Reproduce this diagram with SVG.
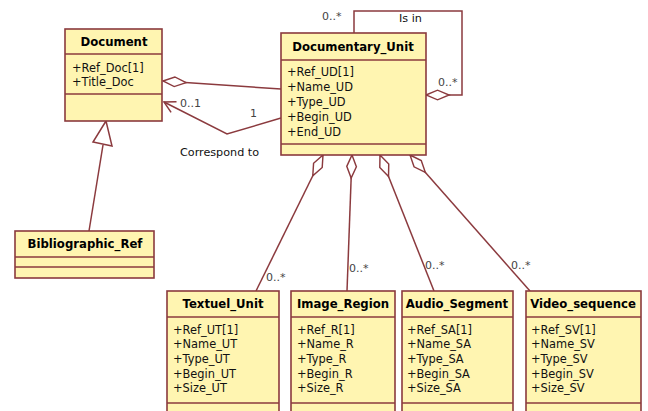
<svg xmlns="http://www.w3.org/2000/svg" width="648" height="411" viewBox="0 0 648 411">
<style>
.box{fill:#FFF5B1;stroke:#8B3A3E;stroke-width:1.6}
.div{stroke:#8B3A3E;stroke-width:1.6;fill:none}
.ln{stroke:#8B3A3E;stroke-width:1.5;fill:none}
.t{font-family:"DejaVu Sans",Verdana,sans-serif;font-size:11.7px;font-weight:bold;fill:#000;text-anchor:middle}
.a{font-family:"DejaVu Sans",Verdana,sans-serif;font-size:11.4px;fill:#111}
.m{font-family:"DejaVu Sans",Verdana,sans-serif;font-size:11px;fill:#444}
.l{font-family:"DejaVu Sans",Verdana,sans-serif;font-size:11.2px;fill:#111}
</style>
<defs>
<marker id="dia" markerUnits="userSpaceOnUse" markerWidth="26" markerHeight="12" viewBox="-1 -6 27 12" refX="0" refY="0" orient="auto">
<path d="M0,0 L12,-5 L24,0 L12,5 Z" fill="#fff" stroke="#8B3A3E" stroke-width="1.5"/>
</marker>
<marker id="arr" markerUnits="userSpaceOnUse" markerWidth="14" markerHeight="14" viewBox="-1 -7 14 14" refX="11" refY="0" orient="auto">
<path d="M0,-6 L11,0 L0,6" fill="none" stroke="#8B3A3E" stroke-width="1.5"/>
</marker>
</defs>
<rect width="648" height="411" fill="#fff"/>
<g id="connectors">
<line class="ln" x1="163" y1="81" x2="281" y2="89" marker-start="url(#dia)"/>
<polyline class="ln" points="281,118 227,134 164,102" marker-end="url(#arr)"/>
<polyline class="ln" points="426,95 462,95 462,11 354,11 354,33" marker-start="url(#dia)"/>
<line class="ln" x1="103" y1="145" x2="89" y2="231"/>
<polygon points="106,121 93,142 112,146" fill="#fff" stroke="#8B3A3E" stroke-width="1.5"/>
<line class="ln" x1="323" y1="155" x2="256" y2="291" marker-start="url(#dia)"/>
<line class="ln" x1="352" y1="155" x2="347" y2="291" marker-start="url(#dia)"/>
<line class="ln" x1="380" y1="155" x2="434" y2="291" marker-start="url(#dia)"/>
<line class="ln" x1="410" y1="155" x2="530" y2="291" marker-start="url(#dia)"/>
<text class="m" x="180" y="107">0..1</text>
<text class="m" x="250" y="117">1</text>
<text class="l" x="180" y="156">Correspond to</text>
<text class="m" x="322" y="20">0..*</text>
<text class="l" x="399" y="22">Is in</text>
<text class="m" x="438" y="86">0..*</text>
<text class="m" x="266" y="281">0..*</text>
<text class="m" x="349" y="272">0..*</text>
<text class="m" x="425" y="269">0..*</text>
<text class="m" x="511" y="269">0..*</text>
</g>
<g id="Document">
<rect class="box" x="65" y="29" width="97" height="92"/>
<line class="div" x1="65" y1="54" x2="162" y2="54"/>
<line class="div" x1="65" y1="94" x2="162" y2="94"/>
<text class="t" x="114" y="46">Document</text>
<text class="a" x="72" y="72">+Ref_Doc[1]</text>
<text class="a" x="72" y="86">+Title_Doc</text>
</g>
<g id="Documentary_Unit">
<rect class="box" x="281" y="33" width="145" height="122"/>
<line class="div" x1="281" y1="60" x2="426" y2="60"/>
<line class="div" x1="281" y1="144" x2="426" y2="144"/>
<text class="t" x="353" y="51">Documentary_Unit</text>
<text class="a" x="287" y="76">+Ref_UD[1]</text>
<text class="a" x="287" y="91">+Name_UD</text>
<text class="a" x="287" y="106">+Type_UD</text>
<text class="a" x="287" y="121">+Begin_UD</text>
<text class="a" x="287" y="136">+End_UD</text>
</g>
<g id="Bibliographic_Ref">
<rect class="box" x="15" y="231" width="139" height="47"/>
<line class="div" x1="15" y1="257" x2="154" y2="257"/>
<line class="div" x1="15" y1="267" x2="154" y2="267"/>
<text class="t" x="85" y="248">Bibliographic_Ref</text>
</g>
<g id="Textuel_Unit">
<rect class="box" x="167" y="291" width="112" height="130"/>
<line class="div" x1="167" y1="317" x2="279" y2="317"/>
<line class="div" x1="167" y1="403" x2="279" y2="403"/>
<text class="t" x="223" y="308">Textuel_Unit</text>
<text class="a" x="173" y="334">+Ref_UT[1]</text>
<text class="a" x="173" y="348">+Name_UT</text>
<text class="a" x="173" y="363">+Type_UT</text>
<text class="a" x="173" y="378">+Begin_UT</text>
<text class="a" x="173" y="392">+Size_UT</text>
</g>
<g id="Image_Region">
<rect class="box" x="291" y="291" width="104" height="130"/>
<line class="div" x1="291" y1="317" x2="395" y2="317"/>
<line class="div" x1="291" y1="403" x2="395" y2="403"/>
<text class="t" x="343" y="308">Image_Region</text>
<text class="a" x="297" y="334">+Ref_R[1]</text>
<text class="a" x="297" y="348">+Name_R</text>
<text class="a" x="297" y="363">+Type_R</text>
<text class="a" x="297" y="378">+Begin_R</text>
<text class="a" x="297" y="392">+Size_R</text>
</g>
<g id="Audio_Segment">
<rect class="box" x="402" y="291" width="111" height="130"/>
<line class="div" x1="402" y1="317" x2="513" y2="317"/>
<line class="div" x1="402" y1="403" x2="513" y2="403"/>
<text class="t" x="457" y="308">Audio_Segment</text>
<text class="a" x="407" y="334">+Ref_SA[1]</text>
<text class="a" x="407" y="348">+Name_SA</text>
<text class="a" x="407" y="363">+Type_SA</text>
<text class="a" x="407" y="378">+Begin_SA</text>
<text class="a" x="407" y="392">+Size_SA</text>
</g>
<g id="Video_sequence">
<rect class="box" x="526" y="291" width="115" height="130"/>
<line class="div" x1="526" y1="317" x2="641" y2="317"/>
<line class="div" x1="526" y1="403" x2="641" y2="403"/>
<text class="t" x="583" y="308">Video_sequence</text>
<text class="a" x="531" y="334">+Ref_SV[1]</text>
<text class="a" x="531" y="348">+Name_SV</text>
<text class="a" x="531" y="363">+Type_SV</text>
<text class="a" x="531" y="378">+Begin_SV</text>
<text class="a" x="531" y="392">+Size_SV</text>
</g>
</svg>
